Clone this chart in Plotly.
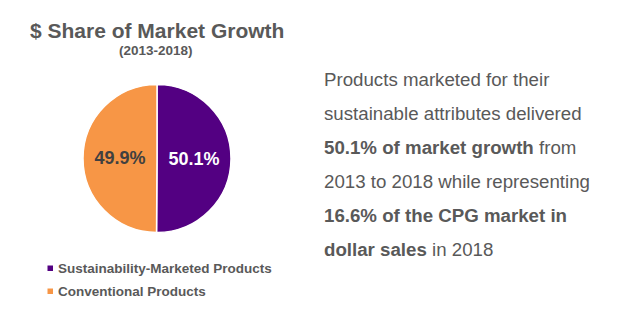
import plotly.graph_objects as go

# Share of market growth, 2013-2018
categories = ["Sustainability-Marketed Products", "Conventional Products"]
shares = [50.1, 49.9]
slice_colors = ["#530082", "#F79646"]
label_colors = ["#FFFFFF", "#404040"]

title_text = "$ Share of Market Growth"
subtitle_text = "(2013-2018)"

# Callout paragraph, one entry per rendered line
callout_lines = [
    "Products marketed for their",
    "sustainable attributes delivered",
    "<b>50.1% of market growth</b> from",
    "2013 to 2018 while representing",
    "<b>16.6% of the CPG market in</b>",
    "<b>dollar sales</b> in 2018",
]

W, H = 633, 327
FONT = "Arial, Liberation Sans, sans-serif"
GRAY = "#595959"

fig = go.Figure()

# Pie placed in a square pixel box centred at (157, 158.5), radius ~74
cx, cy, r = 157, 158.5, 74
fig.add_trace(go.Pie(
    labels=categories,
    values=shares,
    sort=False,
    direction="clockwise",
    rotation=0,
    marker=dict(colors=slice_colors, line=dict(color="white", width=1.5)),
    texttemplate="%{value:.1f}%",
    textposition="inside",
    insidetextorientation="horizontal",
    textfont=dict(family=FONT, size=18, color=label_colors, weight="bold"),
    domain=dict(x=[(cx - r) / W, (cx + r) / W], y=[1 - (cy + r) / H, 1 - (cy - r) / H]),
    showlegend=False,
    hoverinfo="label+percent",
))

annotations = []
shapes = []

# Title and subtitle
annotations.append(dict(text=f"<b>{title_text}</b>", x=157 / W, y=1 - 30 / H,
                        xref="paper", yref="paper", showarrow=False,
                        xanchor="center", yanchor="middle",
                        font=dict(family=FONT, size=21, color=GRAY)))
annotations.append(dict(text=f"<b>{subtitle_text}</b>", x=156 / W, y=1 - 50 / H,
                        xref="paper", yref="paper", showarrow=False,
                        xanchor="center", yanchor="middle",
                        font=dict(family=FONT, size=13.5, color=GRAY)))

# Custom legend with small square keys
legend_y = [268, 291]
for name, color, ly in zip(categories, slice_colors, legend_y):
    shapes.append(dict(type="rect", xref="paper", yref="paper",
                       x0=47.5 / W, x1=53 / W, y0=1 - (ly + 3) / H, y1=1 - (ly - 2.5) / H,
                       fillcolor=color, line=dict(width=0)))
    annotations.append(dict(text=f"<b>{name}</b>", x=56 / W, y=1 - ly / H,
                            xref="paper", yref="paper", showarrow=False,
                            xanchor="left", yanchor="middle",
                            font=dict(family=FONT, size=13.5, color=GRAY)))

# Callout text on the right
line_y0, line_step = 80, 33.8
for i, line in enumerate(callout_lines):
    annotations.append(dict(text=line, x=322 / W, y=1 - (line_y0 + i * line_step) / H,
                            xref="paper", yref="paper", showarrow=False,
                            xanchor="left", yanchor="middle",
                            font=dict(family=FONT, size=18.7, color=GRAY)))

fig.update_layout(
    width=W, height=H,
    margin=dict(l=0, r=0, t=0, b=0),
    paper_bgcolor="white", plot_bgcolor="white",
    annotations=annotations, shapes=shapes,
)

fig.write_html("out.html")
